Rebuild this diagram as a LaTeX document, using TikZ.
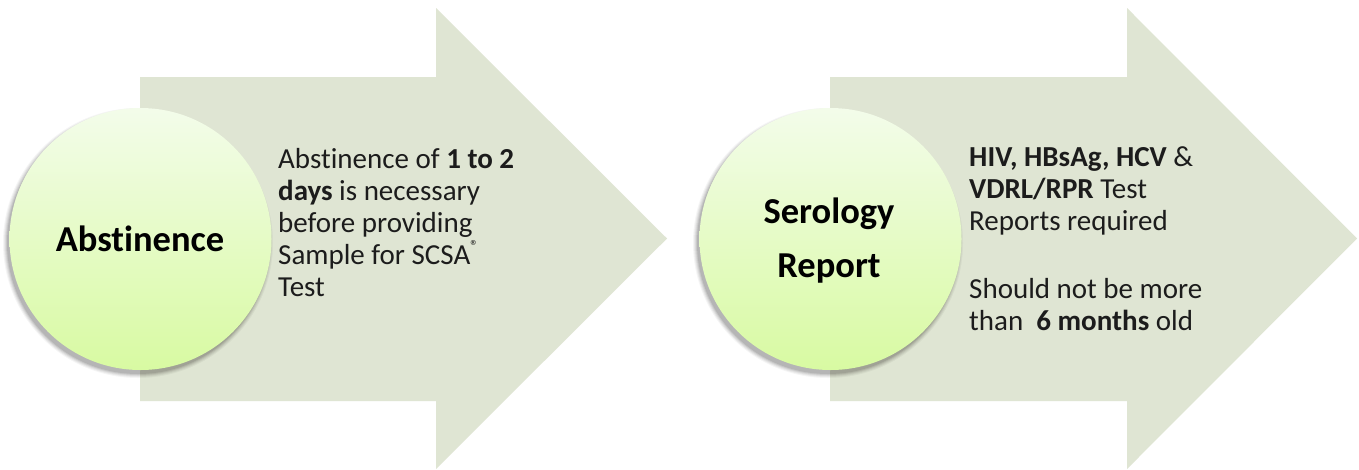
\documentclass[tikz,border=0pt]{standalone}
\usepackage{fontspec}
\setmainfont{Carlito}[Ligatures=NoCommon, RawFeature={-liga;-calt;-clig}]
\definecolor{arrowfill}{HTML}{DFE5D3}
\definecolor{circtop}{HTML}{F3FCEA}
\definecolor{circbot}{HTML}{D8FAA2}
\definecolor{txt}{HTML}{1C1C1C}
\begin{document}
\begin{tikzpicture}[x=1pt,y=-1pt,
  arrowshape/.style={fill=arrowfill, draw=none},
  ballnode/.style={circle, minimum size=262pt, inner sep=0pt, draw=none,
    top color=circtop, bottom color=circbot},
  balltext/.style={font=\fontsize{36.5}{40}\selectfont\bfseries, text=black, inner sep=0pt, anchor=base},
  bodytext/.style={font=\fontsize{29}{32}\selectfont, text=txt, inner sep=0pt, anchor=base west}]
\useasboundingbox[fill=white] (0,0) rectangle (1359,469);

% arrows
\fill[arrowshape] (140,77) -- (436,77) -- (436,8) -- (667,238.5) -- (436,469) -- (436,401) -- (140,401) -- cycle;
\fill[arrowshape] (830,77) -- (1127,77) -- (1127,8) -- (1357,238.5) -- (1127,469) -- (1127,401) -- (830,401) -- cycle;

% soft shadows
\foreach \cx in {138,828}{
  \foreach \r/\o in {135/0.04,134/0.05,133/0.06,132/0.08,131/0.09}
    \fill[black, opacity=\o] (\cx,243) circle (\r pt);
}

% circles
\node[ballnode] (c1) at (140.5,239) {};
\node[ballnode] (c2) at (830.5,239) {};

\node[balltext] (c1t) at (140,251) {Abst\kern0pt inence};
\node[balltext] (c2a) at (829,223) {Serology};
\node[balltext] (c2b) at (829,277) {Report};

% text block 1
\node[bodytext] (a1) at (278,168) {Abst\kern0pt inence of \textbf{1 to 2}};
\node[bodytext] (a2) at (278,200) {\textbf{days} is necessary};
\node[bodytext] (a3) at (278,232) {before providing};
\node[bodytext] (a4) at (278,264) {Sample for SCSA\raisebox{0.42em}{\fontsize{16}{16}\selectfont ®}};
\node[bodytext] (a5) at (278,296) {Test};

% text block 2
\node[bodytext] (b1) at (969,166) {\textbf{HIV, HBsAg, HCV} \&};
\node[bodytext] (b2) at (969,198) {\textbf{VDRL/RPR} Test};
\node[bodytext] (b3) at (969,230) {Reports required};
\node[bodytext] (b4) at (969,298) {Should not be more};
\node[bodytext] (b5) at (969,330) {than\ \ \textbf{6 months} old};
\end{tikzpicture}
\end{document}
